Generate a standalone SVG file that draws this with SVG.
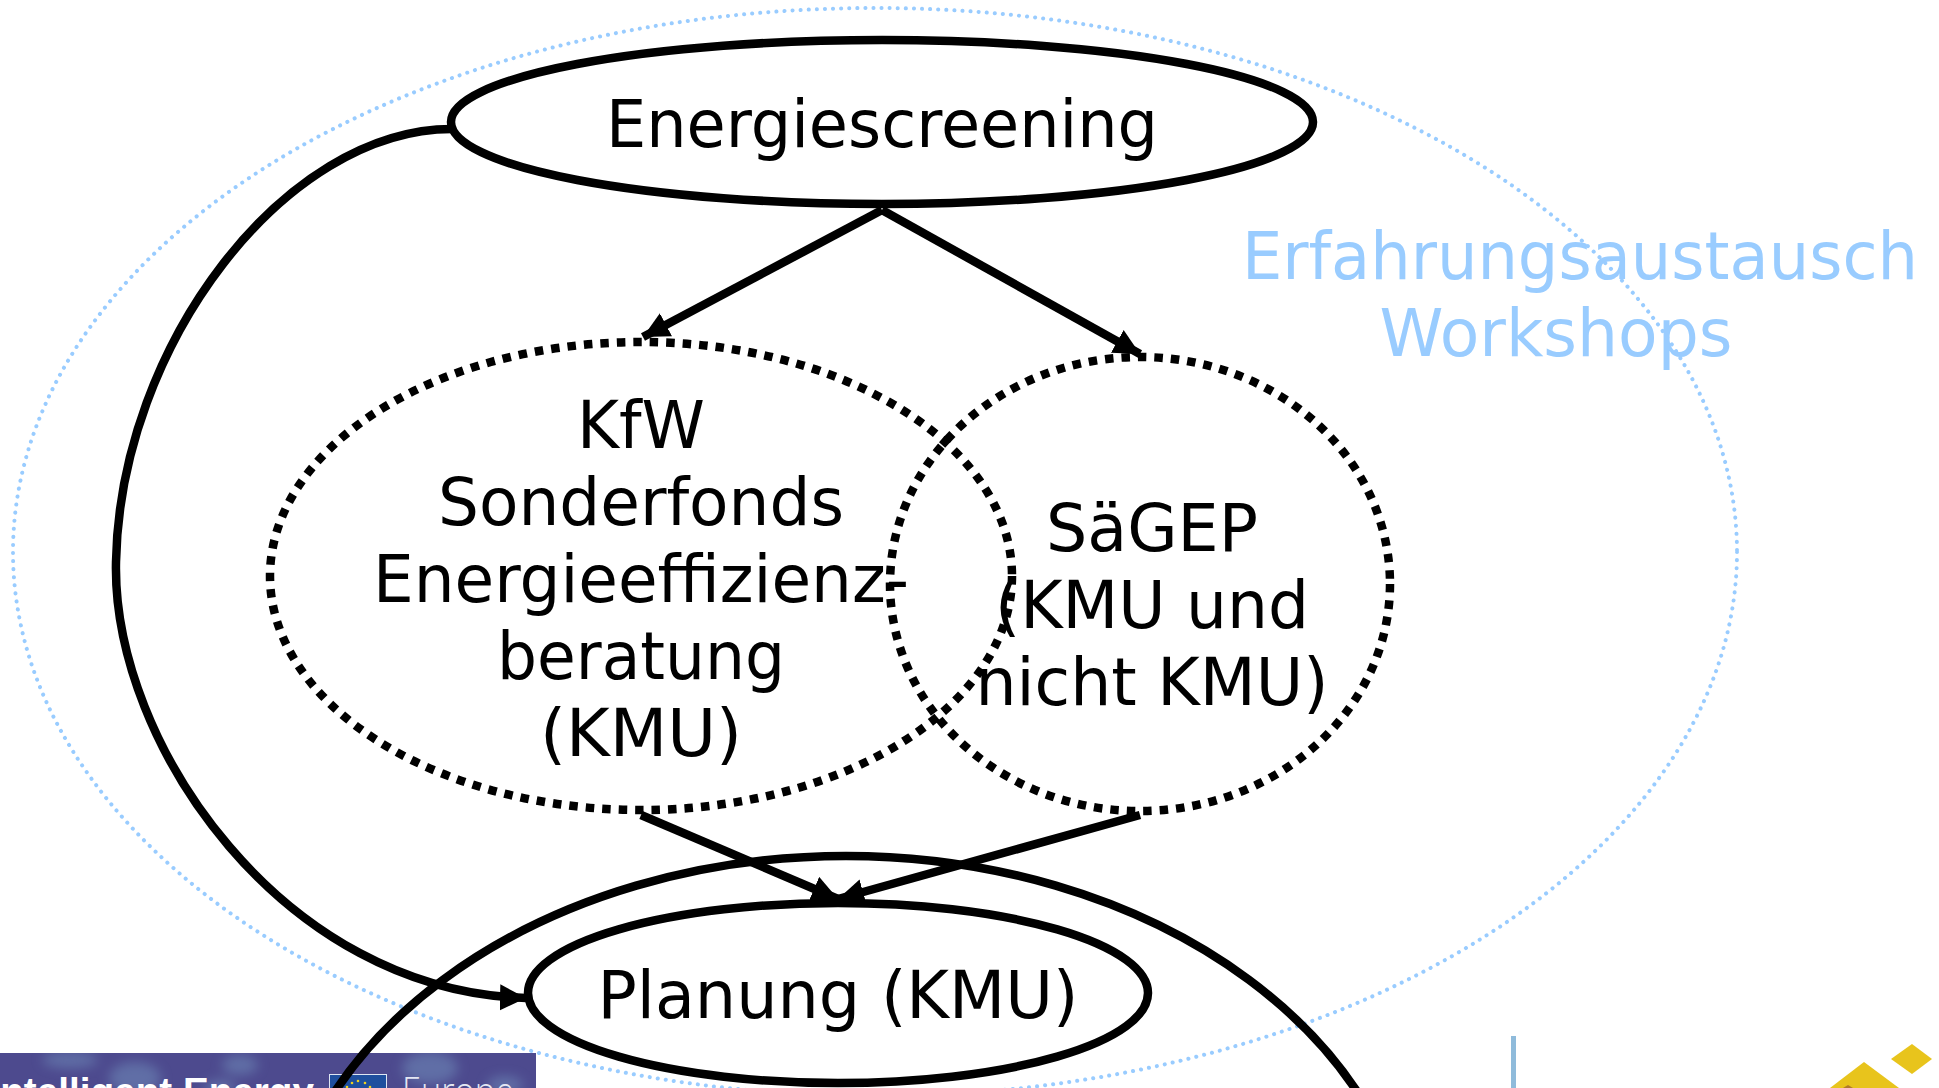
<svg xmlns="http://www.w3.org/2000/svg" width="1939" height="1088" viewBox="0 0 1939 1088">
<style>
text{font-family:"DejaVu Sans",Verdana,sans-serif;text-anchor:middle;fill:#000;font-size:65px}
.b{fill:#99ccff}
.solid{fill:none;stroke:#000;stroke-width:8.5}
.dot{fill:none;stroke:#000;stroke-width:8.5;stroke-dasharray:8.5 8}
.c{fill:none;stroke:#000;stroke-width:8.5}
.ban{text-anchor:start;font-family:"Liberation Sans",sans-serif;font-size:38px;fill:#fff}
</style>
<defs>
<marker id="a" markerUnits="userSpaceOnUse" markerWidth="28" markerHeight="28" refX="26" refY="13" orient="auto"><path d="M0 0L26 13L0 26Z" fill="#000"/></marker>
<filter id="blur" x="-50%" y="-50%" width="200%" height="200%"><feGaussianBlur stdDeviation="6"/></filter>
<clipPath id="bc"><rect x="0" y="1053" width="536" height="35"/></clipPath>
</defs>
<rect width="1939" height="1088" fill="#fff"/>
<g id="experience">
<ellipse cx="875" cy="552" rx="862" ry="544" fill="none" stroke="#99ccff" stroke-width="4" stroke-linecap="round" stroke-dasharray="0.1 8"/>
<text class="b" x="1580" y="279" textLength="676" lengthAdjust="spacingAndGlyphs">Erfahrungsaustausch</text>
<text class="b" x="1556" y="356" textLength="353" lengthAdjust="spacingAndGlyphs">Workshops</text>
</g>
<g id="banner">
<rect x="0" y="1053" width="536" height="35" fill="#4d4a8e"/>
<g clip-path="url(#bc)"><g filter="url(#blur)" fill="#6f8cba" opacity=".55">
<ellipse cx="135" cy="1078" rx="26" ry="16"/>
<ellipse cx="70" cy="1060" rx="28" ry="8"/>
<ellipse cx="240" cy="1065" rx="18" ry="10"/>
<ellipse cx="430" cy="1068" rx="28" ry="16"/>
<ellipse cx="505" cy="1085" rx="18" ry="9"/>
<ellipse cx="220" cy="1088" rx="16" ry="8"/>
</g></g>
<text class="ban" x="-10.5" y="1105" style="font-weight:700" textLength="324.5" lengthAdjust="spacingAndGlyphs">Intelligent Energy</text>
<rect x="329.500" y="1074.500" width="57" height="14" fill="#1f4f9e" stroke="#dfe6f2" stroke-width="1"/>
<g fill="#f2d21e"><circle cx="347" cy="1087" r="1.300"/><circle cx="352" cy="1083" r="1.300"/><circle cx="358" cy="1081" r="1.300"/><circle cx="365" cy="1083" r="1.300"/><circle cx="370" cy="1087" r="1.300"/></g>
<text class="ban" x="402" y="1105" style="font-family:'Open Sans',sans-serif;font-weight:300;fill:#e4e7f3" textLength="112" lengthAdjust="spacingAndGlyphs">Europe</text>
</g>
<rect id="bar" x="1511" y="1036" width="5" height="52" fill="#8fbbdb"/>
<g id="logo">
<path fill="#e8c41c" d="M1912 1044L1932 1059L1912 1074L1891 1059Z"/>
<path fill="#e8c41c" d="M1864 1062L1899 1088L1830 1088Z"/>
<path fill="#b07a2a" d="M1848 1085L1853 1088L1843 1088Z"/>
</g>
<g id="outer"><ellipse class="solid" cx="846" cy="1279" rx="570" ry="423"/></g>
<g id="screening"><ellipse class="solid" cx="882" cy="122" rx="431" ry="82"/><text x="882" y="147" textLength="552" lengthAdjust="spacingAndGlyphs">Energiescreening</text></g>
<g id="kfw"><ellipse class="dot" cx="641" cy="576" rx="371" ry="234"/>
<text x="641" y="448" textLength="128" lengthAdjust="spacingAndGlyphs">KfW</text>
<text x="641" y="525" textLength="406" lengthAdjust="spacingAndGlyphs">Sonderfonds</text>
<text x="641" y="602" textLength="536" lengthAdjust="spacingAndGlyphs">Energieeffizienz-</text>
<text x="641" y="679" textLength="288" lengthAdjust="spacingAndGlyphs">beratung</text>
<text x="641" y="756" textLength="202" lengthAdjust="spacingAndGlyphs">(KMU)</text></g>
<g id="saegep"><ellipse class="dot" cx="1140" cy="584" rx="250" ry="227"/>
<text x="1152" y="551" textLength="212" lengthAdjust="spacingAndGlyphs">SäGEP</text>
<text x="1152" y="628" textLength="314" lengthAdjust="spacingAndGlyphs">(KMU und</text>
<text x="1152" y="705" textLength="353" lengthAdjust="spacingAndGlyphs">nicht KMU)</text></g>
<g id="planung"><ellipse class="solid" cx="838" cy="993" rx="310" ry="90"/><text x="838" y="1018" textLength="481" lengthAdjust="spacingAndGlyphs">Planung (KMU)</text></g>
<g id="connectors">
<path class="c" marker-end="url(#a)" d="M882 210L643 337"/>
<path class="c" marker-end="url(#a)" d="M882 210L1140 354"/>
<path class="c" marker-end="url(#a)" d="M641 815L838 899"/>
<path class="c" marker-end="url(#a)" d="M1140 815L838 899"/>
<path class="c" marker-end="url(#a)" d="M452 129C285 129 120 345 116 562C112 745 285 992 526 998"/>
</g>
</svg>
